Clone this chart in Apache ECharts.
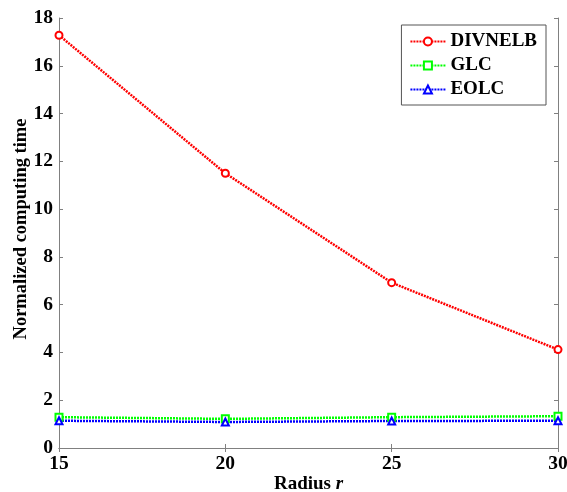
<!DOCTYPE html>
<html>
<head>
<meta charset="utf-8">
<script src="https://cdn.jsdelivr.net/npm/echarts@6/dist/echarts.min.js"></script>
<style>
  html, body { margin: 0; padding: 0; background: #fff; }
  #chart { width: 567px; height: 492px; }
</style>
</head>
<body>
<div id="chart"></div>
<script>
// Radius values on the x axis
const radius = [15, 20, 25, 30];
// Normalized computing time per method
const divnelb = [17.28, 11.50, 6.92, 4.12];
const glc = [1.29, 1.22, 1.29, 1.33];
const eolc = [1.14, 1.09, 1.13, 1.14];

const FONT = '"Liberation Serif", "Times New Roman", serif';
const AXIS_GRAY = '#808080';

function pairs(ys) {
  return radius.map((x, i) => [x, ys[i]]);
}

function lineSeries(name, ys, color, symbol) {
  return {
    name: name,
    type: 'line',
    data: pairs(ys),
    symbol: symbol,
    symbolSize: 7,
    showAllSymbol: true,
    lineStyle: { color: color, width: 2.5, type: [2, 1] },
    itemStyle: { color: color, borderColor: color, borderWidth: 2.5 },
    emphasis: { disabled: true },
    z: 3
  };
}

const chart = echarts.init(document.getElementById('chart'));

const tickStyle = { show: true, inside: true, length: 4, lineStyle: { color: AXIS_GRAY } };
const lineAxis = { show: true, lineStyle: { color: AXIS_GRAY, width: 1 } };
const labelStyle = { fontFamily: FONT, fontWeight: 'bold', fontSize: 19.5, color: '#000' };

chart.setOption({
  backgroundColor: '#fff',
  animation: false,
  grid: { left: 59, right: 9, top: 18, bottom: 44, containLabel: false, outerBoundsMode: 'none' },
  legend: {
    orient: 'vertical',
    right: 21,
    top: 25,
    backgroundColor: '#fff',
    borderColor: '#555',
    borderWidth: 1,
    borderRadius: 0,
    padding: [7, 9, 6, 8],
    itemWidth: 35,
    itemHeight: 10,
    itemGap: 5,
    textStyle: { fontFamily: FONT, fontWeight: 'bold', fontSize: 19, color: '#000', lineHeight: 19 },
    data: ['DIVNELB', 'GLC', 'EOLC']
  },
  xAxis: [
    {
      type: 'value',
      min: 15, max: 30, interval: 5,
      axisLine: lineAxis,
      axisTick: tickStyle,
      splitLine: { show: false },
      axisLabel: Object.assign({ margin: 6 }, labelStyle),
      name: '{b|Radius }{i|r}',
      nameLocation: 'middle',
      nameMoveOverlap: false,
      nameGap: 27,
      nameTextStyle: {
        rich: {
          b: { fontFamily: FONT, fontWeight: 'bold', fontSize: 19, color: '#000' },
          i: { fontFamily: FONT, fontWeight: 'bold', fontStyle: 'italic', fontSize: 19, color: '#000' }
        }
      }
    },
    {
      type: 'value',
      position: 'top',
      min: 15, max: 30, interval: 5,
      axisLine: lineAxis,
      axisTick: tickStyle,
      axisLabel: { show: false },
      splitLine: { show: false }
    }
  ],
  yAxis: [
    {
      type: 'value',
      min: 0, max: 18, interval: 2,
      axisLine: lineAxis,
      axisTick: tickStyle,
      splitLine: { show: false },
      axisLabel: Object.assign({ margin: 6 }, labelStyle),
      name: 'Normalized computing time',
      nameLocation: 'middle',
      nameMoveOverlap: false,
      nameGap: 28,
      nameTextStyle: { fontFamily: FONT, fontWeight: 'bold', fontSize: 18.5, color: '#000', padding: [0, 0, 0, 8] }
    },
    {
      type: 'value',
      position: 'right',
      min: 0, max: 18, interval: 2,
      axisLine: lineAxis,
      axisTick: tickStyle,
      axisLabel: { show: false },
      splitLine: { show: false }
    }
  ],
  series: [
    lineSeries('DIVNELB', divnelb, '#ff0000', 'emptyCircle'),
    lineSeries('GLC', glc, '#00ff00', 'emptyRect'),
    lineSeries('EOLC', eolc, '#0000ff', 'emptyTriangle')
  ]
});
</script>
</body>
</html>
